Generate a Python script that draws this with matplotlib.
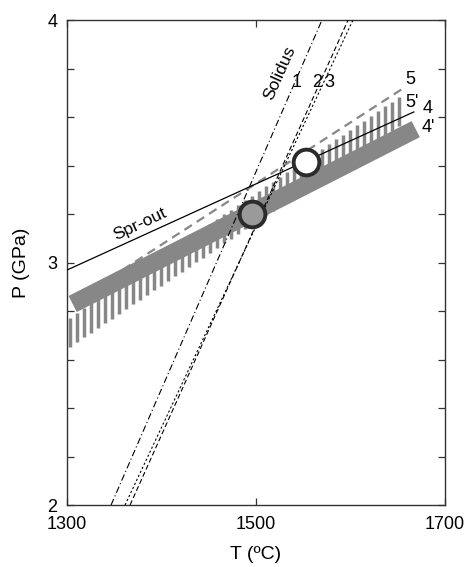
import numpy as np
import matplotlib
matplotlib.use("Agg")
import matplotlib.pyplot as plt

plt.rcParams["font.family"] = ["Liberation Sans", "DejaVu Sans"]

# ── data (T in degC, P in GPa) ────────────────────────────────────────────────
# solidus curves 1, 2, 3
sol1_T = [1346.6, 1569.8]
sol1_P = [2.0, 4.0]
sol2_T = [1361.4, 1602.6]
sol2_P = [2.0, 4.0]
sol3_T = [1366.7, 1597.4]
sol3_P = [2.0, 4.0]

# spinel-out reaction 4 (solid) and 5 (grey dashed)
spr4_T = [1300.0, 1667.0]
spr4_P = [2.969, 3.621]
spr5_T = [1320.0, 1658.0]
spr5_P = [2.872, 3.724]

# uncertainty bands 4' (solid) and 5' (hatched)
band4_T = [1306.0, 1669.0]
band4_P = [2.829, 3.550]
band5_T = [1303.0, 1658.0]
band5_P = [2.713, 3.641]
band5_halfwidth = 0.06

# intersections
pts_T = [1496.0, 1553.0]
pts_P = [3.200, 3.414]
pts_face = ["#9a9a9a", "white"]

# labels
lab_text = ["1", "2", "3", "5", "5'", "4", "4'"]
lab_T = [1543, 1565, 1578, 1663, 1665, 1682, 1682]
lab_P = [3.744, 3.744, 3.744, 3.753, 3.658, 3.637, 3.555]

fig = plt.figure(figsize=(4.66, 5.67), dpi=100)
ax = fig.add_axes([0.1438, 0.1093, 0.8112, 0.8554])

grey = "#878787"

# hatched band 5'
hT = np.arange(band5_T[0], band5_T[1], 7.4)
hP = np.interp(hT, band5_T, band5_P)
ax.vlines(hT, hP - band5_halfwidth, hP + band5_halfwidth,
          color=grey, lw=2.5, zorder=1)

# grey dashed line 5
ax.plot(spr5_T, spr5_P, color=grey, lw=1.6, dashes=(4, 2.6), zorder=1.5)

# solid band 4'
ax.plot(band4_T, band4_P, color=grey, lw=13, solid_capstyle="butt", zorder=2)

# solidus lines
ax.plot(sol1_T, sol1_P, color="black", lw=0.8, dashes=(6, 2.5, 1, 2.5), zorder=3)
ax.plot(sol2_T, sol2_P, color="black", lw=0.8, dashes=(2, 2), zorder=3)
ax.plot(sol3_T, sol3_P, color="black", lw=0.8, dashes=(4.5, 2.5), zorder=3)

# spr-out line 4
ax.plot(spr4_T, spr4_P, color="black", lw=0.9, zorder=3)

# intersection circles
for t, p, fc in zip(pts_T, pts_P, pts_face):
    ax.plot(t, p, "o", ms=18.5, mfc=fc, mec="#2b2b2b", mew=2.8, zorder=5)

# annotations
ax.text(1377, 3.159, "Spr-out", fontsize=12.5, rotation=25,
        ha="center", va="center")
ax.text(1525, 3.781, "Solidus", fontsize=12.5, rotation=66,
        ha="center", va="center")
for s, t, p in zip(lab_text, lab_T, lab_P):
    ax.text(t, p, s, fontsize=13, ha="center", va="center")

ax.set_xlim(1300, 1700)
ax.set_ylim(2, 4)
ax.set_xticks([1300, 1500, 1700])
ax.set_yticks([2, 3, 4])
ax.set_yticks(np.arange(2.2, 4.0, 0.2), minor=True)
ax.tick_params(which="both", direction="in", top=True, right=True,
               length=5, width=0.9, color="#333333", labelsize=13)
ax.tick_params(axis="x", pad=8)
ax.tick_params(axis="y", pad=7)
for sp in ax.spines.values():
    sp.set_linewidth(1.0)
    sp.set_color("#333333")

ax.set_xlabel("T (ºC)", fontsize=14)
ax.set_ylabel("P (GPa)", fontsize=14)
ax.xaxis.set_label_coords(0.5, -0.085)
ax.yaxis.set_label_coords(-0.098, 0.5)

fig.savefig("out.png", dpi=100)
